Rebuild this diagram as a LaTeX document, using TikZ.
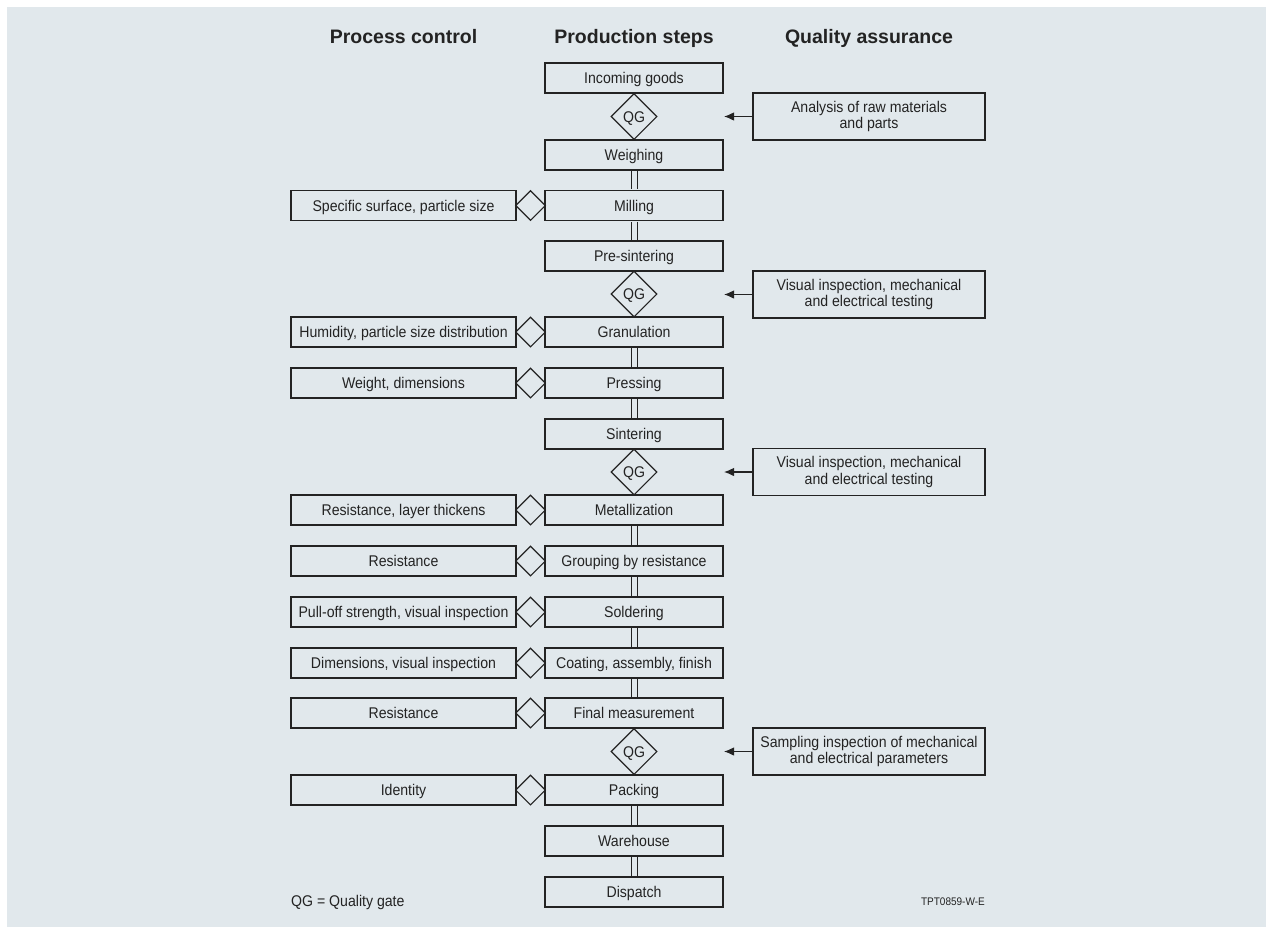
\documentclass[tikz,border=0pt]{standalone}
\usepackage{fontspec}
\setmainfont{Liberation Sans}[FakeStretch=0.91]
\newfontfamily\hdfont{Liberation Sans}
\usetikzlibrary{shapes.geometric,arrows.meta}
\definecolor{bg}{RGB}{225,232,236}
\definecolor{ink}{RGB}{35,35,35}
\begin{document}
\begin{tikzpicture}[x=1pt,y=-1pt,
  every node/.style={font=\fontsize{15.5}{16.5}\selectfont, text=ink},
  base/.style={draw=ink, line width=1.1pt, inner sep=0pt, text height=11pt, text depth=0pt},
  stepbox/.style={base, minimum width=178pt, minimum height=30pt},
  ctrlbox/.style={base, minimum width=225pt, minimum height=30pt},
  qabox/.style={draw=ink, line width=1.1pt, inner sep=0pt, minimum width=232pt, minimum height=47pt, align=center},
  qg/.style={diamond, draw=ink, line width=1.1pt, minimum width=46pt, minimum height=46pt, inner sep=0pt, text height=11pt, text depth=0pt},
  cdia/.style={diamond, draw=ink, line width=1.1pt, minimum width=30pt, minimum height=30pt, inner sep=0pt},
  link/.style={draw=ink, line width=1.0pt, double=bg, double distance=5pt, shorten <=0.55pt, shorten >=0.55pt},
  qaarrow/.style={draw=ink, line width=1.1pt, -{Latex[length=10pt,width=8.5pt]}},
  header/.style={font=\hdfont\bfseries\fontsize{19.5}{22}\selectfont, anchor=base, inner sep=0pt}
]
\useasboundingbox (0,0) rectangle (1266,927);
\fill[bg] (7,7) rectangle (1266,927);

% headers
\node[header] (h1) at (403.5,43) {Process control};
\node[header] (h2) at (634,43) {Production steps};
\node[header] (h3) at (869,43) {Quality assurance};

% production steps
\node[stepbox] (m1)  at (634,78)  {Incoming goods};
\node[qg]      (q1)  at (634,116.5) {QG};
\node[stepbox] (m2)  at (634,155) {Weighing};
\node[stepbox] (m3)  at (634,205.5) {Milling};
\node[stepbox] (m4)  at (634,256) {Pre-sintering};
\node[qg]      (q2)  at (634,294) {QG};
\node[stepbox] (m5)  at (634,332) {Granulation};
\node[stepbox] (m6)  at (634,383) {Pressing};
\node[stepbox] (m7)  at (634,434) {Sintering};
\node[qg]      (q3)  at (634,472) {QG};
\node[stepbox] (m8)  at (634,510) {Metallization};
\node[stepbox] (m9)  at (634,561) {Grouping by resistance};
\node[stepbox] (m10) at (634,612) {Soldering};
\node[stepbox] (m11) at (634,663) {Coating, assembly, finish};
\node[stepbox] (m12) at (634,713) {Final measurement};
\node[qg]      (q4)  at (634,751.5) {QG};
\node[stepbox] (m13) at (634,790) {Packing};
\node[stepbox] (m14) at (634,841) {Warehouse};
\node[stepbox] (m15) at (634,892) {Dispatch};

% double-line connectors
\foreach \a/\b in {m2/m3, m3/m4, m5/m6, m6/m7, m8/m9, m9/m10, m10/m11, m11/m12, m13/m14, m14/m15}
  \draw[link] (\a.south) -- (\b.north);

% process control
\node[cdia] (d3)  at (530.5,205.5) {};
\node[ctrlbox] (c3)  at (403.5,205.5) {Specific surface, particle size};
\node[cdia] (d5)  at (530.5,332) {};
\node[ctrlbox] (c5)  at (403.5,332) {Humidity, particle size distribution};
\node[cdia] (d6)  at (530.5,383) {};
\node[ctrlbox] (c6)  at (403.5,383) {Weight, dimensions};
\node[cdia] (d8)  at (530.5,510) {};
\node[ctrlbox] (c8)  at (403.5,510) {Resistance, layer thickens};
\node[cdia] (d9)  at (530.5,561) {};
\node[ctrlbox] (c9)  at (403.5,561) {Resistance};
\node[cdia] (d10) at (530.5,612) {};
\node[ctrlbox] (c10) at (403.5,612) {Pull-off strength, visual inspection};
\node[cdia] (d11) at (530.5,663) {};
\node[ctrlbox] (c11) at (403.5,663) {Dimensions, visual inspection};
\node[cdia] (d12) at (530.5,713) {};
\node[ctrlbox] (c12) at (403.5,713) {Resistance};
\node[cdia] (d13) at (530.5,790) {};
\node[ctrlbox] (c13) at (403.5,790) {Identity};

% quality assurance
\node[qabox] (r1) at (869,116.5) {Analysis of raw materials\\and parts};
\node[qabox] (r2) at (869,294.5) {Visual inspection, mechanical\\and electrical testing};
\node[qabox] (r3) at (869,472) {Visual inspection, mechanical\\and electrical testing};
\node[qabox] (r4) at (869,751.5) {Sampling inspection of mechanical\\and electrical parameters};
\coordinate (t1) at (724,116.5);
\coordinate (t2) at (724,294.5);
\coordinate (t3) at (724,472);
\coordinate (t4) at (724,751.5);
\draw[qaarrow] (r1.west) -- (t1);
\draw[qaarrow] (r2.west) -- (t2);
\draw[qaarrow] (r3.west) -- (t3);
\draw[qaarrow] (r4.west) -- (t4);

% footer
\node[anchor=base west, inner sep=0pt] (leg) at (291,906) {QG = Quality gate};
\node[anchor=base east, inner sep=0pt, font=\fontsize{11}{13}\selectfont] (ref) at (985,905) {TPT0859-W-E};
\end{tikzpicture}
\end{document}
